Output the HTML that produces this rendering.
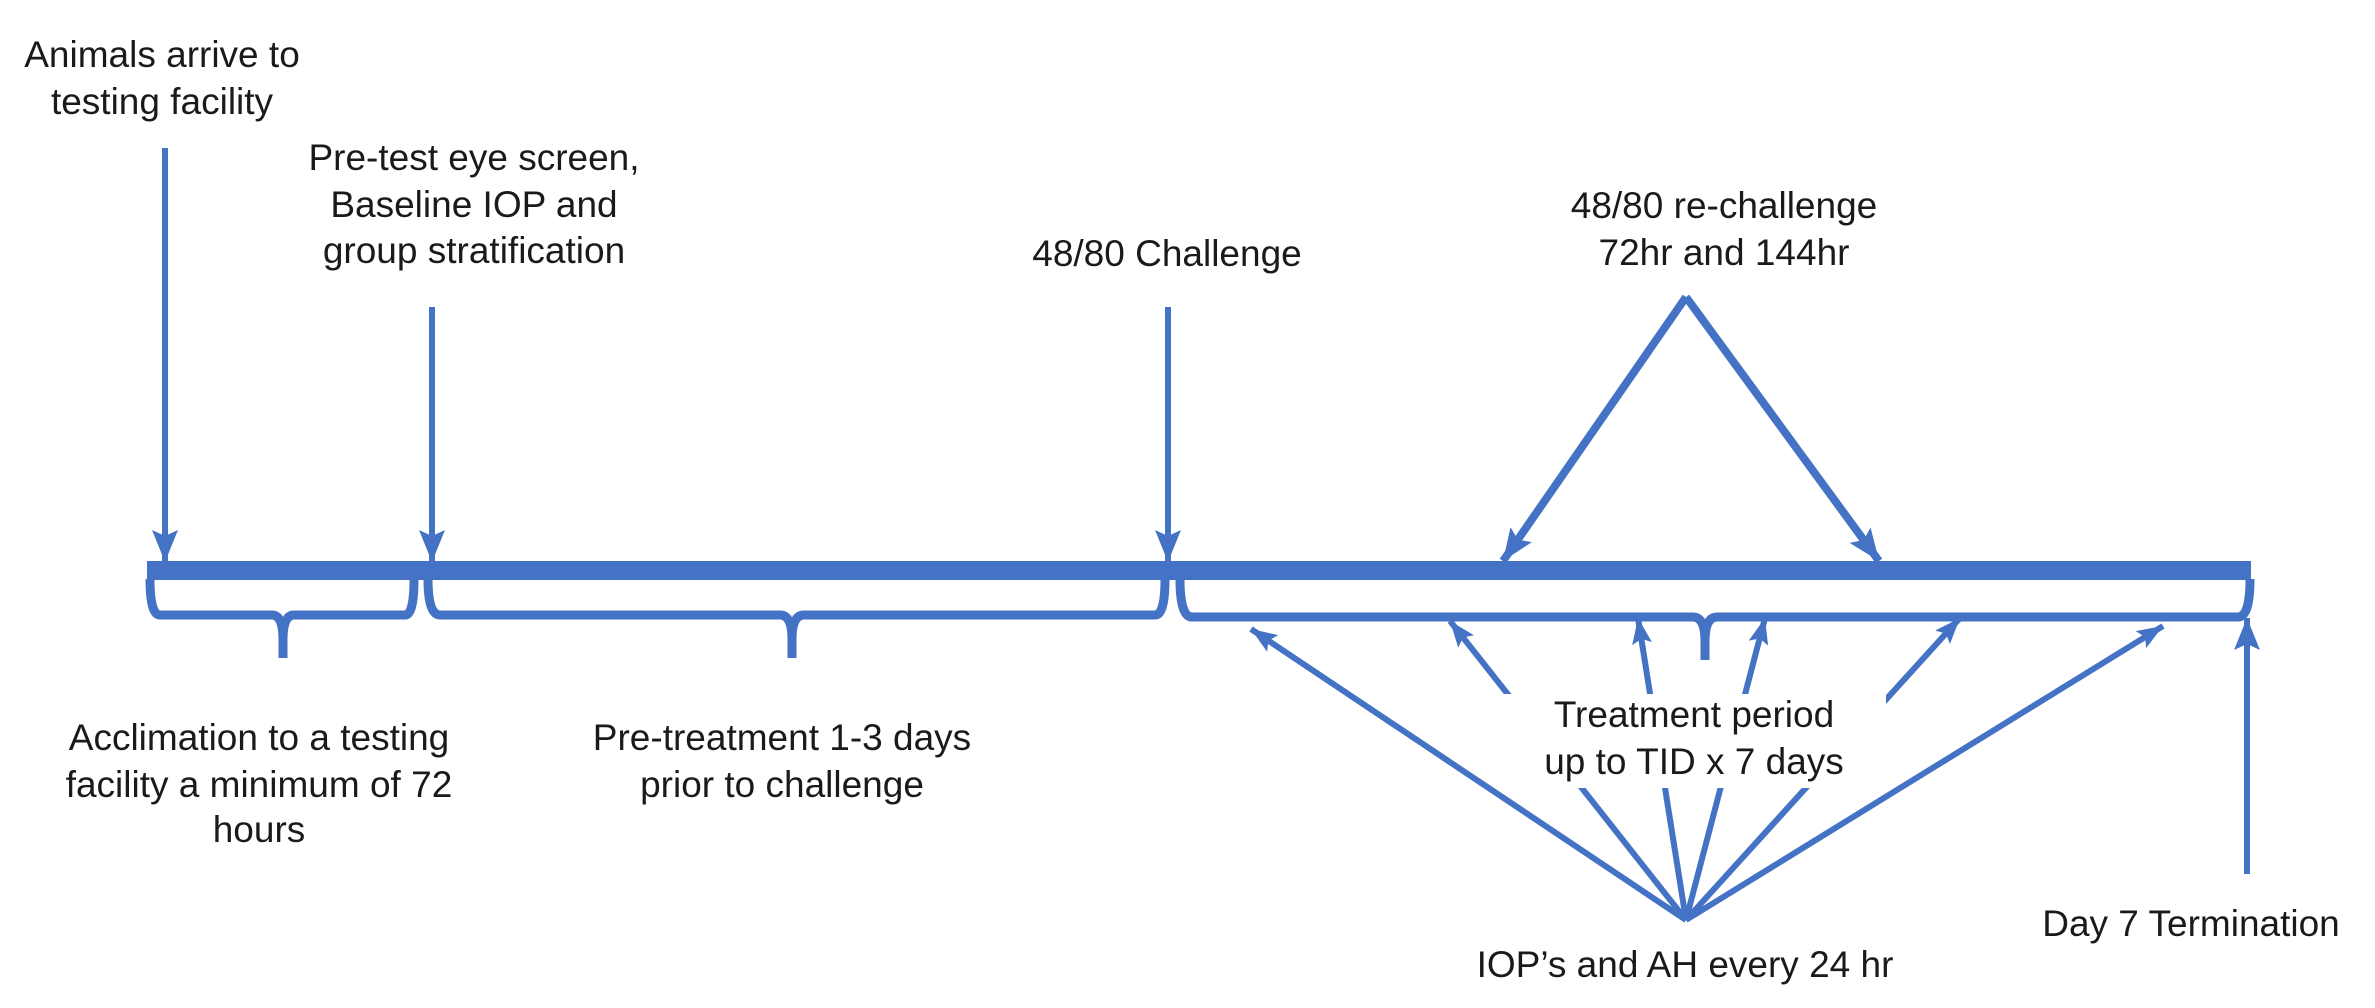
<!DOCTYPE html>
<html><head><meta charset="utf-8"><style>
html,body{margin:0;padding:0;background:#fff;}
svg{display:block;}
text{font-family:"Liberation Sans",Arial,sans-serif;font-size:37px;fill:#1a1a1a;text-anchor:middle;}
</style></head><body>
<svg width="2375" height="1008" viewBox="0 0 2375 1008" xmlns="http://www.w3.org/2000/svg">
<defs>
<marker id="ah" markerUnits="userSpaceOnUse" markerWidth="40" markerHeight="40" refX="32" refY="13" orient="auto">
<path d="M0,0 L32,13 L0,26 L6,13 Z" fill="#4472C4"/>
</marker>
<marker id="ahs" markerUnits="userSpaceOnUse" markerWidth="40" markerHeight="40" refX="26" refY="10" orient="auto">
<path d="M0,0 L26,10 L0,20 L5,10 Z" fill="#4472C4"/>
</marker>
</defs>
<g stroke="#4472C4" fill="none">
<rect x="147" y="561" width="2104" height="19" fill="#4472C4" stroke="none"/>
<path d="M150,579 Q150,615 160,615 L272,615 Q283,615 283,640 L283,658 M283,640 Q283,615 294,615 L405,615 Q414,615 414,579" stroke-width="9"/>
<path d="M428,579 Q428,615 440,615 L780,615 Q792,615 792,640 L792,658 M792,640 Q792,615 804,615 L1155,615 Q1165,615 1165,579" stroke-width="9"/>
<path d="M1180,579 Q1180,617 1192,617 L1693,617 Q1705,617 1705,642 L1705,660 M1705,642 Q1705,617 1717,617 L2238,617 Q2250,617 2250,579" stroke-width="9"/>
<line x1="165" y1="148" x2="165" y2="562" stroke-width="6" marker-end="url(#ah)"/>
<line x1="432" y1="307" x2="432" y2="562" stroke-width="6" marker-end="url(#ah)"/>
<line x1="1168" y1="307" x2="1168" y2="562" stroke-width="6" marker-end="url(#ah)"/>
<line x1="1686" y1="297" x2="1503" y2="561" stroke-width="8" marker-end="url(#ah)"/>
<line x1="1686" y1="297" x2="1879" y2="561" stroke-width="8" marker-end="url(#ah)"/>
<line x1="1686" y1="920" x2="1251" y2="629" stroke-width="6" marker-end="url(#ahs)"/>
<line x1="1686" y1="920" x2="1450" y2="621" stroke-width="6" marker-end="url(#ahs)"/>
<line x1="1686" y1="920" x2="1638" y2="618" stroke-width="6" marker-end="url(#ahs)"/>
<line x1="1686" y1="920" x2="1765" y2="618" stroke-width="6" marker-end="url(#ahs)"/>
<line x1="1686" y1="920" x2="1960" y2="618" stroke-width="6" marker-end="url(#ahs)"/>
<line x1="1686" y1="920" x2="2163" y2="626" stroke-width="6" marker-end="url(#ahs)"/>
<line x1="2247" y1="874" x2="2247" y2="618" stroke-width="6" marker-end="url(#ah)"/>
</g>
<rect x="1503" y="694" width="383" height="94" fill="#fff"/>
<text x="162" y="67">Animals arrive to</text>
<text x="162" y="114">testing facility</text>
<text x="474" y="170">Pre-test eye screen,</text>
<text x="474" y="217">Baseline IOP and</text>
<text x="474" y="263">group stratification</text>
<text x="1167" y="266">48/80 Challenge</text>
<text x="1724" y="218">48/80 re-challenge</text>
<text x="1724" y="265">72hr and 144hr</text>
<text x="259" y="750">Acclimation to a testing</text>
<text x="259" y="797">facility a minimum of 72</text>
<text x="259" y="842">hours</text>
<text x="782" y="750">Pre-treatment 1-3 days</text>
<text x="782" y="797">prior to challenge</text>
<text x="1694" y="727">Treatment period</text>
<text x="1694" y="774">up to TID x 7 days</text>
<text x="1685" y="977">IOP’s and AH every 24 hr</text>
<text x="2191" y="936">Day 7 Termination</text>
</svg>
</body></html>
